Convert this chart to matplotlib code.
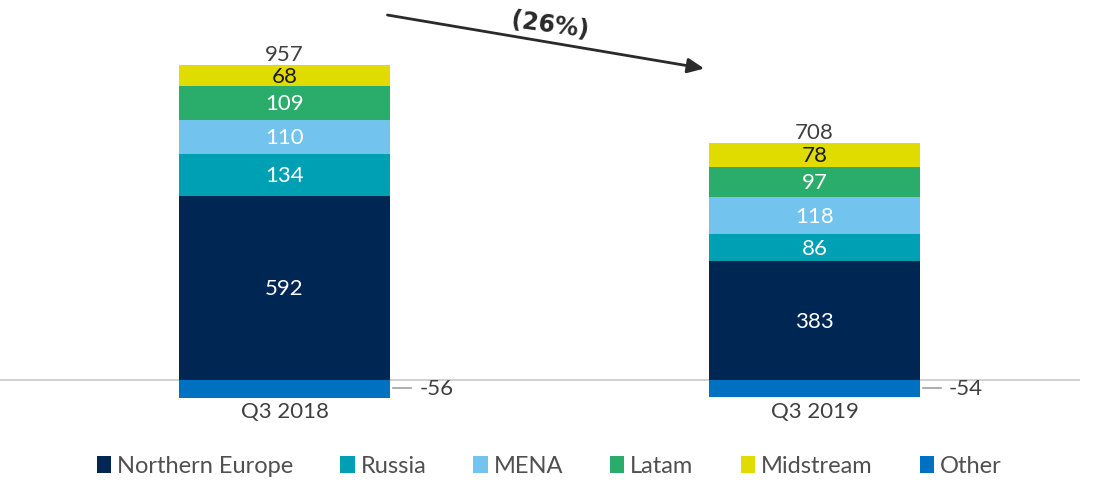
import matplotlib.pyplot as plt
import numpy as np

plt.rcParams['font.family'] = ['Lato', 'DejaVu Sans']

categories = ["Q3 2018", "Q3 2019"]
series = ["Northern Europe", "Russia", "MENA", "Latam", "Midstream"]
values = {
    "Northern Europe": [592, 383],
    "Russia": [134, 86],
    "MENA": [110, 118],
    "Latam": [109, 97],
    "Midstream": [68, 78],
}
other = [-56, -54]
totals = [957, 708]
change_label = "(26%)"

colors = {
    "Northern Europe": "#002654",
    "Russia": "#00A0B4",
    "MENA": "#72C4EE",
    "Latam": "#2AAD6A",
    "Midstream": "#E0DC00",
    "Other": "#0070C0",
}
text_colors = {
    "Northern Europe": "white",
    "Russia": "white",
    "MENA": "white",
    "Latam": "white",
    "Midstream": "#1a1a1a",
}

fig = plt.figure(figsize=(10.94, 4.81), dpi=100)
ax = fig.add_axes([0, 61 / 481, 1080 / 1094, 420 / 481])

x = np.arange(len(categories))
width = 0.398
bottom = np.zeros(len(categories))
handles = []
for name in series:
    vals = np.array(values[name])
    b = ax.bar(x, vals, width, bottom=bottom, color=colors[name], label=name, zorder=2)
    handles.append(b)
    for xi, v, bt in zip(x, vals, bottom):
        ax.text(xi, bt + v / 2, str(v), ha="center", va="center",
                fontsize=16, color=text_colors[name], zorder=3)
    bottom += vals

b = ax.bar(x, other, width, color=colors["Other"], label="Other", zorder=2)
handles.append(b)

# zero line
ax.axhline(0, color="#c8c8c8", lw=1.2, zorder=1)

for xi, top, tot, o in zip(x, bottom, totals, other):
    ax.text(xi, top + 4, str(tot), ha="center", va="bottom", fontsize=16, color="#404040")
    ax.text(xi, -66, categories[xi], ha="center", va="top", fontsize=16, color="#404040")
    # leader line + label for negative segment
    ax.plot([xi + width / 2 + 0.005, xi + width / 2 + 0.04], [o * 0.45, o * 0.45],
            color="#a0a0a0", lw=1.2)
    ax.text(xi + width / 2 + 0.055, o * 0.45, str(o), ha="left", va="center",
            fontsize=16, color="#404040")

ax.set_xlim(-0.537, 1.501)
ax.set_ylim(-125, 1225)
ax.axis("off")

# trend arrow
ax.annotate("", xy=(0.797, 1000), xytext=(0.189, 1175),
            arrowprops=dict(arrowstyle="-|>,head_length=1.0,head_width=0.45",
                            color="#2a2a2a", lw=2))
ax.text(0.5, 1142, change_label, ha="center", va="center", fontsize=17,
        fontweight="bold", family=["DejaVu Sans"], color="#2a2a2a", rotation=-8)

fig.legend(handles=handles, labels=series + ["Other"], loc="center",
           bbox_to_anchor=(0.502, 14 / 481), ncol=6, frameon=False,
           fontsize=17, handlelength=0.6, handleheight=0.7, handletextpad=0.25,
           columnspacing=2.0, labelcolor="#505050")

fig.savefig("out.png", dpi=100)
